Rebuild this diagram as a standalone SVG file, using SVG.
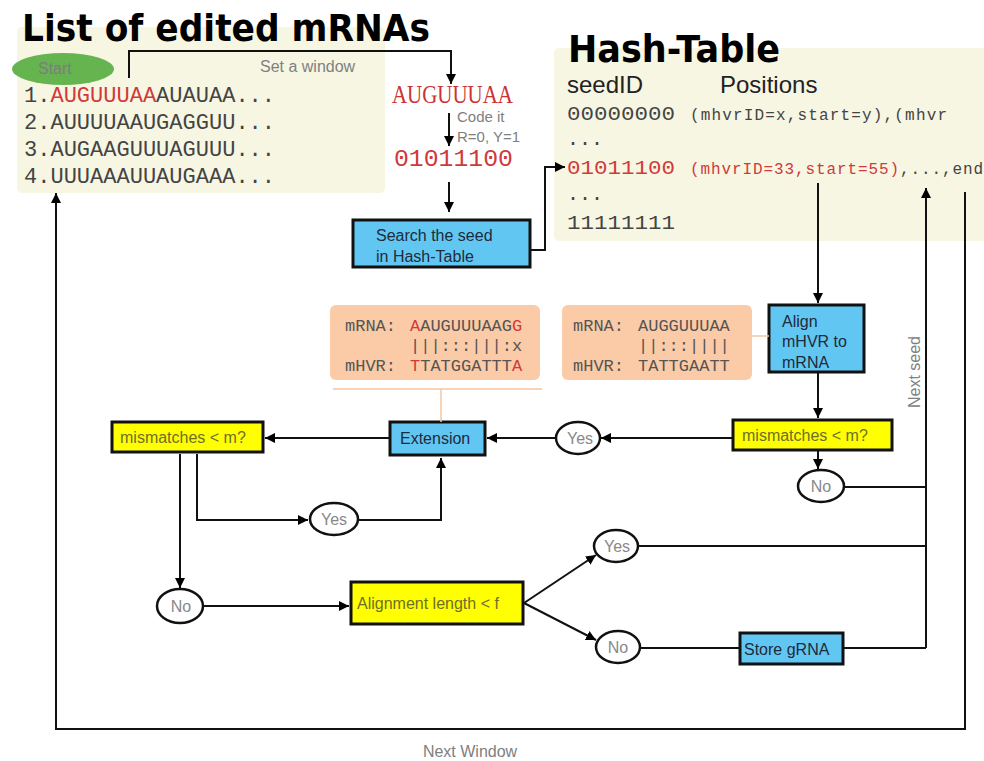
<svg xmlns="http://www.w3.org/2000/svg" width="984" height="761" viewBox="0 0 984 761">
<defs>
<marker id="ah" viewBox="0 0 10 10" refX="10" refY="5" markerWidth="10" markerHeight="10" markerUnits="userSpaceOnUse" orient="auto"><path d="M0,0 L10,5 L0,10 z" fill="#000"/></marker>
<style>
.panel{fill:#f7f6e3}
.title{font-family:"DejaVu Sans",sans-serif;font-weight:bold;fill:#000}
.mono{font-family:"Liberation Mono",monospace;fill:#444}
.red{fill:#d03a3a}
.sans{font-family:"Liberation Sans",Arial,sans-serif}
.grey{fill:#808080}
.blue{fill:#62c6f2;stroke:#111;stroke-width:3}
.yel{fill:#ffff00;stroke:#111;stroke-width:3}
.ytxt{font-family:"Liberation Sans",Arial,sans-serif;font-size:16px;fill:#6e6e2a}
.btxt{font-family:"Liberation Sans",Arial,sans-serif;font-size:16px;fill:#1d2b3a}
.oval{fill:#fff;stroke:#111;stroke-width:2.5}
.otxt{font-family:"Liberation Sans",Arial,sans-serif;font-size:16px;fill:#888;text-anchor:middle}
.orange{fill:#fbcaa6}
.ln{fill:none;stroke:#111;stroke-width:2}
.arr{fill:none;stroke:#111;stroke-width:2;marker-end:url(#ah)}
.sm{font-family:"Liberation Mono",monospace;font-size:17px;fill:#555}
</style>
</defs>
<rect width="984" height="761" fill="#fff"/>

<g id="list-panel">
<rect class="panel" x="17" y="27" width="368" height="166" rx="5"/>
<text class="title" x="22" y="41" font-size="38" textLength="408" lengthAdjust="spacingAndGlyphs">List of edited mRNAs</text>
<text class="mono" font-size="22" x="24" y="102" textLength="251">1.<tspan class="red">AUGUUUAA</tspan>AUAUAA...</text>
<text class="mono" font-size="22" x="24" y="129" textLength="251">2.AUUUUAAUGAGGUU...</text>
<text class="mono" font-size="22" x="24" y="156" textLength="251">3.AUGAAGUUUAGUUU...</text>
<text class="mono" font-size="22" x="24" y="183" textLength="251">4.UUUAAAUUAUGAAA...</text>
<text class="sans grey" font-size="16" x="260" y="72">Set a window</text>
</g>

<g id="start">
<ellipse cx="63" cy="69" rx="51" ry="16" fill="#66b450"/>
<text class="sans" font-size="16" fill="#7d7d7d" x="38" y="74">Start</text>
</g>

<g id="seed">
<text x="392" y="103" font-family="Liberation Serif,serif" font-size="25" fill="#cc3333" textLength="121" lengthAdjust="spacingAndGlyphs">AUGUUUAA</text>
<text class="sans grey" font-size="15" x="457" y="122">Code it</text>
<text class="sans grey" font-size="15" x="457" y="142">R=0, Y=1</text>
<text class="mono red" font-size="23" x="394" y="166" textLength="119" lengthAdjust="spacingAndGlyphs">01011100</text>
</g>

<g id="search">
<rect class="blue" x="353" y="220" width="177" height="47"/>
<text class="btxt" x="376" y="241">Search the seed</text>
<text class="btxt" x="376" y="262">in Hash-Table</text>
</g>

<g id="hash-panel">
<rect class="panel" x="554" y="48" width="440" height="193" rx="5"/>
<text class="title" x="568" y="62" font-size="37" textLength="212" lengthAdjust="spacingAndGlyphs">Hash-Table</text>
<text class="sans" font-size="24" fill="#222" x="567" y="93">seedID</text>
<text class="sans" font-size="24" fill="#222" x="720" y="93">Positions</text>
<text class="mono" font-size="20" x="567" y="120" textLength="108" lengthAdjust="spacingAndGlyphs">00000000</text>
<text class="mono" font-size="16" fill="#555" x="690" y="120" textLength="257">(mhvrID=x,start=y),(mhvr</text>
<text class="mono" font-size="20" x="567" y="145">...</text>
<text class="mono red" font-size="20" x="567" y="174" textLength="108" lengthAdjust="spacingAndGlyphs">01011100</text>
<text class="mono" font-size="16" x="690" y="174" textLength="293"><tspan class="red">(mhvrID=33,start=55)</tspan>,...,end</text>
<text class="mono" font-size="20" x="567" y="200">...</text>
<text class="mono" font-size="20" x="567" y="229" textLength="108" lengthAdjust="spacingAndGlyphs">11111111</text>
</g>

<g id="align-left">
<rect class="orange" x="330" y="305" width="210" height="75" rx="6"/>
<text class="sm" x="345" y="331">mRNA: <tspan x="410" class="red">A</tspan>AUGUUUAAG<tspan class="red">G</tspan></text>
<text class="sm" x="410" y="351">|||:::|||:x</text>
<text class="sm" x="345" y="371">mHVR: <tspan x="410" class="red">T</tspan>TATGGATTT<tspan class="red">A</tspan></text>
</g>

<g id="align-right">
<rect class="orange" x="562" y="305" width="190" height="75" rx="6"/>
<text class="sm" x="573" y="331">mRNA: <tspan x="638">AUGGUUUAA</tspan></text>
<text class="sm" x="638" y="351">||:::||||</text>
<text class="sm" x="573" y="371">mHVR: <tspan x="638">TATTGAATT</tspan></text>
</g>

<g id="align">
<rect class="blue" x="769" y="305" width="95" height="67"/>
<text class="btxt" x="782" y="327">Align</text>
<text class="btxt" x="782" y="347">mHVR to</text>
<text class="btxt" x="782" y="368">mRNA</text>
</g>

<g id="mismatch-right">
<rect class="yel" x="733" y="420" width="159" height="30"/>
<text class="ytxt" x="742" y="441">mismatches &lt; m?</text>
</g>

<g id="no-right">
<ellipse class="oval" cx="821" cy="486" rx="23" ry="16"/>
<text class="otxt" x="821" y="492">No</text>
</g>

<g id="yes-right">
<ellipse class="oval" cx="578" cy="438" rx="22" ry="16"/>
<text class="otxt" x="580" y="444">Yes</text>
</g>

<g id="extension">
<rect class="blue" x="390" y="422" width="95" height="33"/>
<text class="btxt" x="400" y="444">Extension</text>
</g>

<g id="mismatch-left">
<rect class="yel" x="112" y="422" width="151" height="30"/>
<text class="ytxt" x="120" y="443">mismatches &lt; m?</text>
</g>

<g id="yes-left">
<ellipse class="oval" cx="334" cy="519" rx="24" ry="16"/>
<text class="otxt" x="334" y="525">Yes</text>
</g>

<g id="no-left">
<ellipse class="oval" cx="180" cy="606" rx="23" ry="17"/>
<text class="otxt" x="181" y="612">No</text>
</g>

<g id="alignment-length">
<rect class="yel" x="351" y="582" width="172" height="42"/>
<text class="ytxt" x="357" y="609">Alignment length &lt; f</text>
</g>

<g id="yes-bottom">
<ellipse class="oval" cx="616" cy="546" rx="22" ry="16"/>
<text class="otxt" x="617" y="552">Yes</text>
</g>

<g id="no-bottom">
<ellipse class="oval" cx="618" cy="647" rx="22" ry="16"/>
<text class="otxt" x="618" y="653">No</text>
</g>

<g id="store">
<rect class="blue" x="740" y="633" width="103" height="31"/>
<text class="btxt" x="744" y="655">Store gRNA</text>
</g>

<g id="labels">
<text class="sans grey" font-size="16" transform="translate(920,372) rotate(-90)" text-anchor="middle">Next seed</text>
<text class="sans grey" font-size="16" x="470" y="757" text-anchor="middle">Next Window</text>
</g>

<g id="connectors">
<polyline class="arr" points="129,78 129,51 451,51 451,84"/>
<line class="arr" x1="449" y1="113" x2="449" y2="146"/>
<line class="arr" x1="449" y1="182" x2="449" y2="212"/>
<polyline class="arr" points="530,250 545,250 545,167 565,167"/>
<line class="arr" x1="818" y1="183" x2="818" y2="303"/>
<line class="arr" x1="818" y1="372" x2="818" y2="418"/>
<line class="arr" x1="818" y1="450" x2="818" y2="469"/>
<line class="arr" x1="733" y1="438" x2="601" y2="438"/>
<line class="arr" x1="556" y1="438" x2="487" y2="438"/>
<line class="arr" x1="390" y1="438" x2="265" y2="438"/>
<line class="arr" x1="180" y1="454" x2="180" y2="588"/>
<polyline class="arr" points="197,454 197,520 308,520"/>
<polyline class="arr" points="358,520 441,520 441,458"/>
<line class="arr" x1="203" y1="606" x2="349" y2="606"/>
<line class="arr" x1="524" y1="603" x2="596" y2="555"/>
<line class="arr" x1="524" y1="603" x2="596" y2="640"/>
<line class="ln" x1="640" y1="648" x2="740" y2="648"/>
<line class="ln" x1="844" y1="487" x2="926" y2="487"/>
<line class="ln" x1="638" y1="546" x2="926" y2="546"/>
<polyline class="ln" points="843,648 926,648"/>
<line class="arr" x1="926" y1="648" x2="926" y2="188"/>
<polyline class="arr" points="965,192 965,729 56,729 56,193"/>
<line x1="333" y1="389" x2="542" y2="389" stroke="#fbd2b4" stroke-width="2"/>
<line x1="441" y1="389" x2="441" y2="422" stroke="#f5c7a5" stroke-width="1.5"/>
<line x1="752" y1="336" x2="769" y2="336" stroke="#f5c7a5" stroke-width="1.5"/>
</g>
</svg>
